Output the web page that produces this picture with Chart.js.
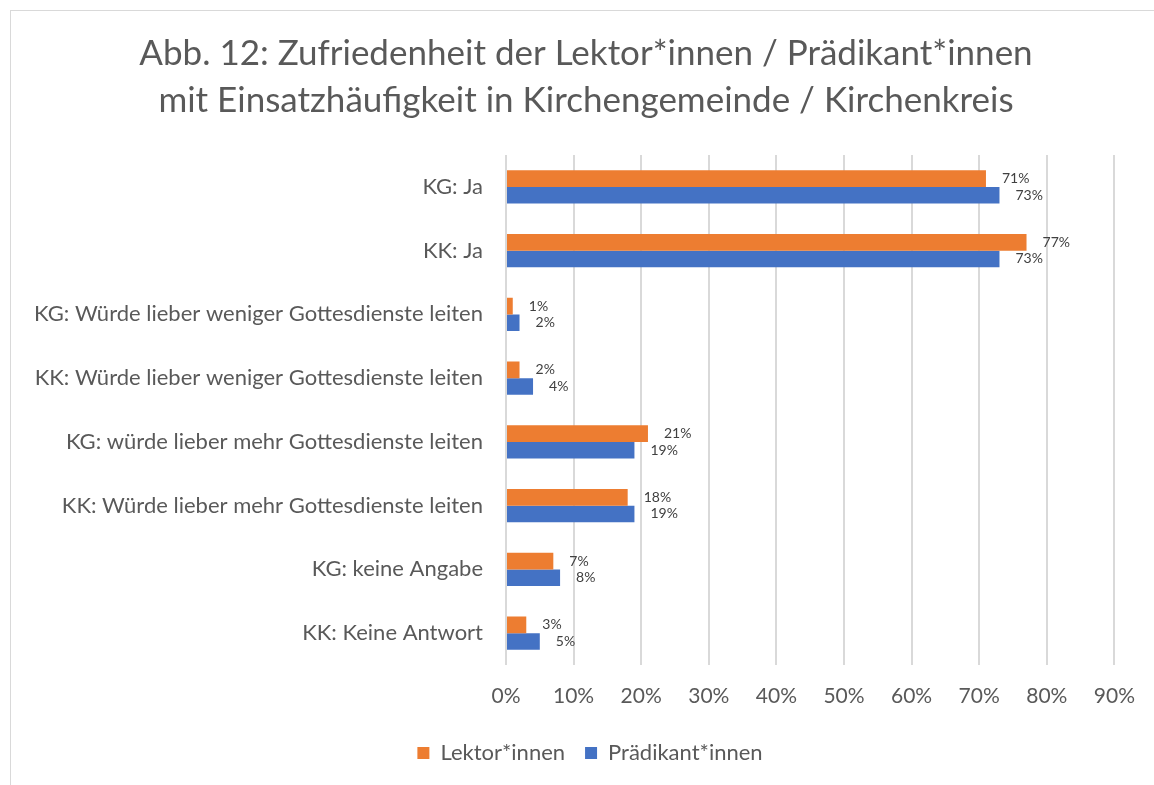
<!DOCTYPE html>
<html>
<head>
<meta charset="utf-8">
<script src="https://cdn.jsdelivr.net/npm/chart.js@4"></script>
<style>
  html, body { margin: 0; padding: 0; background: #fff; }
  #frame { position: absolute; left: 10px; top: 10px; width: 1200px; height: 820px; border: 1px solid #d9d9d9; }
  #wrap { position: absolute; left: 0; top: 0; width: 1154px; height: 785px; }
</style>
</head>
<body>
<div id="frame"></div>
<div id="wrap"><canvas id="chart"></canvas></div>
<script>
// Data
const categories = [
  "KG: Ja",
  "KK: Ja",
  "KG: Würde lieber weniger Gottesdienste leiten",
  "KK: Würde lieber weniger Gottesdienste leiten",
  "KG: würde lieber mehr Gottesdienste leiten",
  "KK: Würde lieber mehr Gottesdienste leiten",
  "KG: keine Angabe",
  "KK: Keine Antwort"
];
const lektorValues = [71, 77, 1, 2, 21, 18, 7, 3];
const praedikantValues = [73, 73, 2, 4, 19, 19, 8, 5];
const seriesNames = ["Lektor*innen", "Prädikant*innen"];
const titleLines = [
  "Abb. 12: Zufriedenheit der Lektor*innen / Prädikant*innen",
  "mit Einsatzhäufigkeit in Kirchengemeinde / Kirchenkreis"
];

const FONT = "Lato";
const TEXT = "#595959";
const CENTER_X = 588; // centre of the outer frame

// Value labels to the right of each bar
const barLabels = {
  id: "barLabels",
  afterDatasetsDraw(chart) {
    const ctx = chart.ctx;
    ctx.save();
    ctx.font = "14px " + FONT;
    ctx.fillStyle = "#404040";
    ctx.textAlign = "left";
    ctx.textBaseline = "middle";
    chart.data.datasets.forEach((ds, i) => {
      chart.getDatasetMeta(i).data.forEach((bar, j) => {
        ctx.fillText(ds.data[j] + "%", bar.x + 16, bar.y);
      });
    });
    ctx.restore();
  }
};

// Title and legend are centred over the whole frame, not the canvas minus right padding
const recenter = {
  id: "recenter",
  afterLayout(chart) {
    const t = chart.titleBlock;
    if (t) t.left = 2 * (CENTER_X - 2) - t.right;
    const l = chart.legend;
    if (l) {
      const shift = CENTER_X + 2 - (l.left + l.right) / 2;
      l.left += shift;
      l.right += shift;
    }
  }
};

new Chart(document.getElementById("chart").getContext("2d"), {
  type: "bar",
  data: {
    labels: categories,
    datasets: [
      { label: seriesNames[0], data: lektorValues, backgroundColor: "#ED7D31" },
      { label: seriesNames[1], data: praedikantValues, backgroundColor: "#4472C4" }
    ]
  },
  options: {
    indexAxis: "y",
    responsive: true,
    maintainAspectRatio: false,
    animation: false,
    categoryPercentage: 0.52,
    barPercentage: 1,
    layout: { padding: { top: 0, left: 0, right: 39, bottom: 11 } },
    plugins: {
      title: {
        display: true,
        text: titleLines,
        color: TEXT,
        font: { family: FONT, size: 35, weight: "normal", lineHeight: 1.343 },
        padding: { top: 30, bottom: 31 }
      },
      legend: {
        position: "bottom",
        labels: {
          color: TEXT,
          font: { family: FONT, size: 22 },
          boxWidth: 12,
          boxHeight: 12,
          padding: 20
        }
      },
      tooltip: { enabled: false }
    },
    scales: {
      x: {
        min: 0,
        max: 90,
        ticks: {
          stepSize: 10,
          color: TEXT,
          font: { family: FONT, size: 21 },
          padding: 19,
          callback: (v) => v + "%"
        },
        grid: { color: "#d9d9d9", lineWidth: 2, drawTicks: false },
        border: { display: false },
        afterFit: (scale) => { scale.height = 57; }
      },
      y: {
        ticks: {
          color: TEXT,
          font: { family: FONT, size: 22 },
          padding: 15
        },
        grid: { display: false },
        border: { display: false },
        afterFit: (scale) => { scale.width = 506; }
      }
    }
  },
  plugins: [barLabels, recenter]
});
</script>
</body>
</html>
